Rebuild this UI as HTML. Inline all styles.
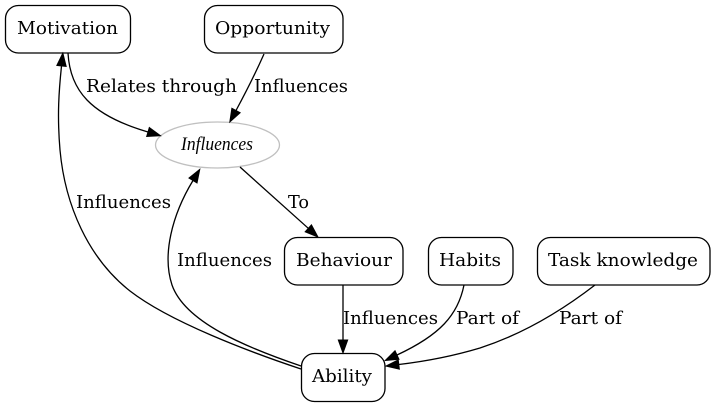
<!DOCTYPE html>
<html><head><meta charset="utf-8"><style>
html,body{margin:0;padding:0;background:#fff;}
svg{display:block;}
text{font-family:"DejaVu Serif","Liberation Serif",serif;font-size:18px;fill:#000;}
.it{font-family:"Liberation Serif","DejaVu Serif",serif;font-style:italic;font-size:19px;}
</style></head><body>
<svg width="716" height="407" viewBox="0 0 716 407" xmlns="http://www.w3.org/2000/svg">
<defs>
<marker id="a" markerUnits="userSpaceOnUse" markerWidth="16" markerHeight="12" refX="0" refY="5" orient="auto" viewBox="0 0 16 10" overflow="visible">
<path d="M0,0.3 L13,5 L0,9.7 z" fill="#000" stroke="#000" stroke-width="1"/>
</marker>
</defs>
<g fill="none" stroke="#000" stroke-width="1.3">
<rect x="5.5" y="5.5" width="125" height="47.5" rx="13" ry="13"/>
<rect x="204.5" y="5.5" width="138.5" height="47.5" rx="13" ry="13"/>
<rect x="284.5" y="237.5" width="118.5" height="47.5" rx="13" ry="13"/>
<rect x="428.5" y="237.5" width="84.5" height="47.5" rx="13" ry="13"/>
<rect x="537.5" y="237.5" width="172.5" height="47.5" rx="13" ry="13"/>
<rect x="301.5" y="353.5" width="83.5" height="48" rx="13" ry="13"/>
</g>
<ellipse cx="217.5" cy="145" rx="62" ry="23" fill="none" stroke="#c0c0c0" stroke-width="1.3"/>
<g fill="none" stroke="#000" stroke-width="1.3">
<path d="M68,53 C70,90 90,115 148,132" marker-end="url(#a)"/>
<path d="M264,54 C256,72 246,92 236,110.5" marker-end="url(#a)"/>
<path d="M240,167 L308.3,228.3" marker-end="url(#a)"/>
<path d="M343,285 L343,340" marker-end="url(#a)"/>
<path d="M464,285 C458,315 440,335 397,355" marker-end="url(#a)"/>
<path d="M595,285 C560,312 520,335 480,348 C450,357 420,362 398.8,364.5" marker-end="url(#a)"/>
<path d="M301,369 C250,352 170,322 130,291 C88,258 65,205 60,150 C57,115 59,90 61.5,66" marker-end="url(#a)"/>
<path d="M301,366 C245,347 185,322 172,285 C162,255 172,215 193,180.5" marker-end="url(#a)"/>
</g>
<text x="17" y="34" textLength="101" lengthAdjust="spacingAndGlyphs">Motivation</text>
<text x="215" y="34" textLength="115" lengthAdjust="spacingAndGlyphs">Opportunity</text>
<text class="it" x="181" y="150" textLength="72" lengthAdjust="spacingAndGlyphs">Influences</text>
<text x="296" y="266" textLength="96" lengthAdjust="spacingAndGlyphs">Behaviour</text>
<text x="439" y="266" textLength="62" lengthAdjust="spacingAndGlyphs">Habits</text>
<text x="548" y="266" textLength="150" lengthAdjust="spacingAndGlyphs">Task knowledge</text>
<text x="312" y="382" textLength="60" lengthAdjust="spacingAndGlyphs">Ability</text>
<text x="86" y="92" textLength="151" lengthAdjust="spacingAndGlyphs">Relates through</text>
<text x="254" y="92" textLength="94" lengthAdjust="spacingAndGlyphs">Influences</text>
<text x="76" y="208" textLength="95" lengthAdjust="spacingAndGlyphs">Influences</text>
<text x="288" y="208" textLength="21" lengthAdjust="spacingAndGlyphs">To</text>
<text x="177" y="266" textLength="95" lengthAdjust="spacingAndGlyphs">Influences</text>
<text x="343" y="324" textLength="95" lengthAdjust="spacingAndGlyphs">Influences</text>
<text x="456" y="324" textLength="63" lengthAdjust="spacingAndGlyphs">Part of</text>
<text x="559" y="324" textLength="63" lengthAdjust="spacingAndGlyphs">Part of</text>
</svg>
</body></html>
